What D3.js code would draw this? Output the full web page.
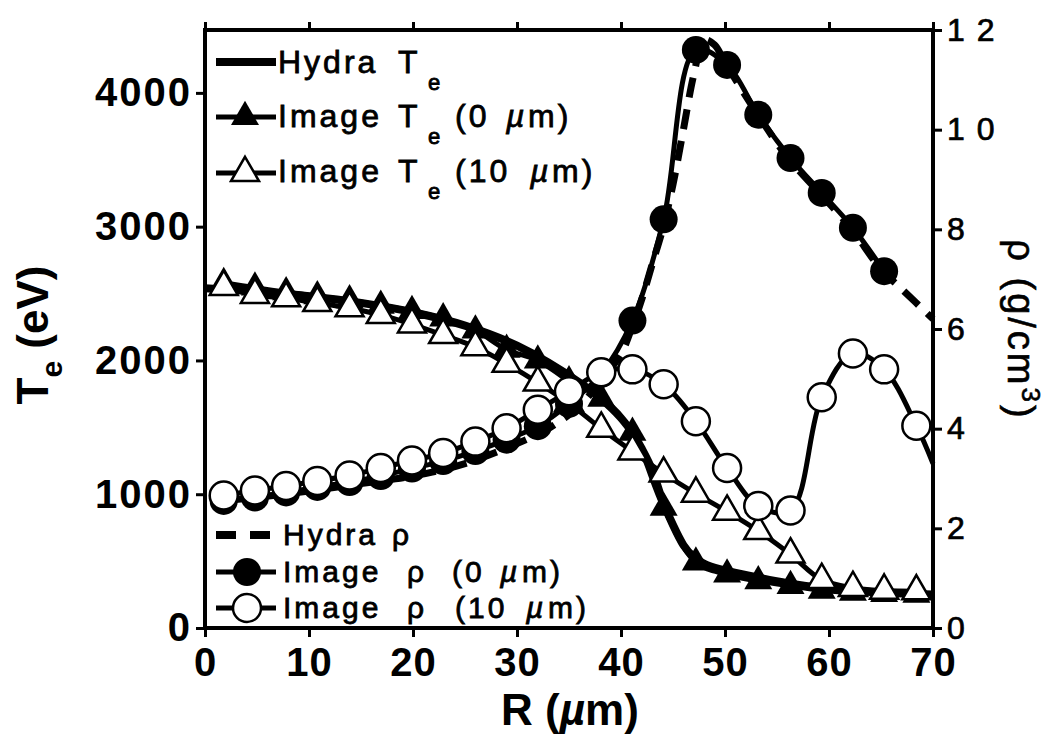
<!DOCTYPE html>
<html>
<head>
<meta charset="utf-8">
<script src="https://cdn.jsdelivr.net/npm/d3@7"></script>
<style>
body { margin: 0; background: #fff; }
svg text { font-family: "Liberation Sans", Arial, sans-serif; fill: #000; }
</style>
</head>
<body>
<script>
// marker radii (um), shared by the four image series
var rMarks = [1.8, 4.8, 7.8, 10.8, 13.9, 16.9, 19.9, 22.9, 26.0, 29.0, 32.0, 35.0, 38.1, 41.1, 44.1, 47.2, 50.2, 53.2, 56.3, 59.3, 62.3, 65.3, 68.4];
var teImg0 = [2580, 2545, 2510, 2480, 2450, 2410, 2370, 2315, 2225, 2080, 2000, 1845, 1715, 1460, 900, 490, 400, 350, 315, 280, 265, 255, 250];
var teImg10 = [2550, 2490, 2465, 2430, 2390, 2340, 2270, 2190, 2100, 1975, 1835, 1680, 1490, 1320, 1155, 1005, 870, 725, 550, 360, 300, 280, 275];
var rhoImg0 = [2.55, 2.62, 2.72, 2.83, 2.93, 3.05, 3.2, 3.35, 3.55, 3.78, 4.05, 4.5, 5.1, 6.17, 8.2, 11.6, 11.3, 10.3, 9.43, 8.73, 8.03, 7.16];
var rhoImg10 = [2.66, 2.76, 2.85, 2.95, 3.06, 3.21, 3.36, 3.51, 3.74, 4.01, 4.38, 4.75, 5.13, 5.19, 4.89, 4.15, 3.21, 2.45, 2.36, 4.63, 5.51, 5.19, 4.06];
// the open-circle curve runs on to the right axis
var rhoImg10TailR = [70];
var rhoImg10Tail = [3.3];

var hydraTeR = [0, 5, 10, 15, 20, 25, 30, 33, 36, 38, 40, 41, 42, 43, 44, 45, 46, 47, 48, 50, 53, 56, 60, 65, 70];
var hydraTe = [2540, 2515, 2480, 2430, 2360, 2260, 2110, 1985, 1835, 1720, 1570, 1470, 1340, 1180, 950, 770, 620, 530, 480, 430, 380, 335, 295, 265, 250];
var hydraRhoR = [2, 5, 10, 15, 20, 25, 30, 33, 36, 38, 40, 41, 42, 43, 44, 45, 46, 47, 48, 49, 50, 53, 56, 59, 62, 65, 67, 70];
var hydraRho = [2.56, 2.62, 2.75, 2.9, 3.05, 3.3, 3.7, 4.0, 4.45, 4.95, 5.5, 6.0, 6.6, 7.3, 8.0, 8.9, 10.0, 11.1, 11.8, 11.7, 11.35, 10.35, 9.45, 8.75, 8.05, 7.2, 6.8, 6.2];

var rTicks = [0, 10, 20, 30, 40, 50, 60, 70];
var teTicks = [0, 1000, 2000, 3000, 4000];
var rhoTicks = [0, 2, 4, 6, 8, 10, 12];

var width = 1062, height = 740;
var plotL = 205, plotR = 933, plotT = 30, plotB = 628;

var x = d3.scaleLinear().domain([0, 70]).range([plotL, plotR]);
var yT = d3.scaleLinear().domain([0, 4470]).range([plotB, plotT]);
var yR = d3.scaleLinear().domain([0, 12]).range([plotB, plotT]);

var svg = d3.select("body").append("svg")
    .attr("width", width)
    .attr("height", height);

function pairs(rs, vs) {
    return rs.slice(0, vs.length).map(function(r, i) { return [r, vs[i]]; });
}

var lineT = d3.line().x(function(d) { return x(d[0]); }).y(function(d) { return yT(d[1]); });
var lineR = d3.line().x(function(d) { return x(d[0]); }).y(function(d) { return yR(d[1]); });

var triArea = 340, circR = 14;
var markLine = 5;
var tri = d3.symbol().type(d3.symbolTriangle).size(triArea);

// ---- Te series ----
svg.append("path")
    .attr("d", lineT.curve(d3.curveMonotoneX)(pairs(hydraTeR, hydraTe)))
    .attr("fill", "none").attr("stroke", "#000").attr("stroke-width", 8);

var te0 = pairs(rMarks, teImg0);
svg.append("path")
    .attr("d", lineT.curve(d3.curveCatmullRom)(te0))
    .attr("fill", "none").attr("stroke", "#000").attr("stroke-width", markLine);
svg.selectAll(".tri0").data(te0).enter().append("path")
    .attr("class", "tri0")
    .attr("d", tri)
    .attr("transform", function(d) { return "translate(" + x(d[0]) + "," + yT(d[1]) + ")"; })
    .attr("fill", "#000");

var te10 = pairs(rMarks, teImg10);
svg.append("path")
    .attr("d", lineT.curve(d3.curveCatmullRom)(te10))
    .attr("fill", "none").attr("stroke", "#000").attr("stroke-width", markLine);
svg.selectAll(".tri10").data(te10).enter().append("path")
    .attr("class", "tri10")
    .attr("d", tri)
    .attr("transform", function(d) { return "translate(" + x(d[0]) + "," + yT(d[1]) + ")"; })
    .attr("fill", "#fff").attr("stroke", "#000").attr("stroke-width", 2.5);

// ---- density series ----
svg.append("path")
    .attr("d", lineR.curve(d3.curveCatmullRom)(pairs(hydraRhoR, hydraRho)))
    .attr("fill", "none").attr("stroke", "#000").attr("stroke-width", 7)
    .attr("stroke-dasharray", "20,12");

var rho0 = pairs(rMarks, rhoImg0);
svg.append("path")
    .attr("d", lineR.curve(d3.curveCatmullRom)(rho0))
    .attr("fill", "none").attr("stroke", "#000").attr("stroke-width", markLine);
svg.selectAll(".c0").data(rho0).enter().append("circle")
    .attr("class", "c0")
    .attr("cx", function(d) { return x(d[0]); })
    .attr("cy", function(d) { return yR(d[1]); })
    .attr("r", circR)
    .attr("fill", "#000");

var rho10 = pairs(rMarks, rhoImg10);
svg.append("path")
    .attr("d", lineR.curve(d3.curveCatmullRom)(rho10.concat(pairs(rhoImg10TailR, rhoImg10Tail))))
    .attr("fill", "none").attr("stroke", "#000").attr("stroke-width", markLine);
svg.selectAll(".c10").data(rho10).enter().append("circle")
    .attr("class", "c10")
    .attr("cx", function(d) { return x(d[0]); })
    .attr("cy", function(d) { return yR(d[1]); })
    .attr("r", circR)
    .attr("fill", "#fff").attr("stroke", "#000").attr("stroke-width", 2.5);

// ---- frame and axes ----
svg.append("rect")
    .attr("x", plotL).attr("y", plotT)
    .attr("width", plotR - plotL).attr("height", plotB - plotT)
    .attr("fill", "none").attr("stroke", "#000").attr("stroke-width", 4);

function styleAxis(g) {
    g.select(".domain").remove();
    g.selectAll(".tick line").attr("stroke", "#000").attr("stroke-width", 3);
}

svg.append("g")
    .attr("transform", "translate(0," + plotB + ")")
    .call(d3.axisBottom(x).tickValues(rTicks).tickSize(9).tickPadding(11).tickFormat(d3.format("d")))
    .call(styleAxis)
    .selectAll("text")
    .style("font-size", "40px").style("font-weight", "bold").style("letter-spacing", "1px");

svg.append("g")
    .attr("transform", "translate(0," + plotT + ")")
    .call(d3.axisTop(x).tickValues(rTicks).tickSize(8).tickFormat(""))
    .call(styleAxis);

svg.append("g")
    .attr("transform", "translate(" + plotL + ",0)")
    .call(d3.axisLeft(yT).tickValues(teTicks).tickSize(9).tickPadding(4).tickFormat(d3.format("d")))
    .call(styleAxis)
    .selectAll("text")
    .style("font-size", "40px").style("font-weight", "bold").style("letter-spacing", "2px");

svg.append("g")
    .attr("transform", "translate(" + plotR + ",0)")
    .call(d3.axisRight(yR).tickValues(rhoTicks).tickSize(9).tickPadding(5).tickFormat(d3.format("d")))
    .call(styleAxis)
    .selectAll("text")
    .style("font-size", "32px").style("letter-spacing", "12px")
    .style("stroke", "#000").style("stroke-width", "0.7px");

// ---- axis titles ----
var xt = svg.append("text")
    .attr("x", 570).attr("y", 725)
    .attr("text-anchor", "middle")
    .style("font-size", "44px").style("font-weight", "bold");
xt.append("tspan").text("R (");
xt.append("tspan").style("font-style", "italic").text("\u00b5");
xt.append("tspan").text("m)");

var yt = svg.append("text")
    .attr("transform", "translate(48,335) rotate(-90)")
    .attr("text-anchor", "middle")
    .style("font-size", "44px").style("font-weight", "bold");
yt.append("tspan").text("T");
yt.append("tspan").attr("dy", 14).style("font-size", "30px").text("e");
yt.append("tspan").attr("dy", -14).text(" (eV)");

var yr = svg.append("text")
    .attr("transform", "translate(1008,330) rotate(90)")
    .attr("text-anchor", "middle")
    .style("font-size", "38px").style("letter-spacing", "3px")
    .style("stroke", "#000").style("stroke-width", "0.6px");
yr.append("tspan").text("\u03c1 (g/cm");
yr.append("tspan").attr("dy", -14).style("font-size", "26px").text("3");
yr.append("tspan").attr("dy", 14).text(")");

// ---- legends ----
function legendLine(y, dashed, w) {
    svg.append("line")
        .attr("x1", 216).attr("x2", 276).attr("y1", y).attr("y2", y)
        .attr("stroke", "#000").attr("stroke-width", w)
        .attr("stroke-dasharray", dashed ? "20,14" : null);
}

function legendTri(y, filled) {
    legendLine(y, false, markLine);
    svg.append("path").attr("d", tri)
        .attr("transform", "translate(245," + y + ")")
        .attr("fill", filled ? "#000" : "#fff")
        .attr("stroke", "#000").attr("stroke-width", filled ? 0 : 2.5);
}

function legendCirc(y, filled) {
    legendLine(y, false, markLine);
    svg.append("circle").attr("cx", 247).attr("cy", y).attr("r", circR)
        .attr("fill", filled ? "#000" : "#fff")
        .attr("stroke", "#000").attr("stroke-width", filled ? 0 : 2.5);
}

function legendText(y, parts, size) {
    var t = svg.append("text").attr("y", y)
        .style("font-size", size + "px").style("letter-spacing", "3px")
        .style("stroke", "#000").style("stroke-width", "0.8px");
    parts.forEach(function(p) {
        var s = t.append("tspan").attr("x", p.x).attr("y", y + (p.dy || 0)).text(p.t);
        if (p.size) s.style("font-size", p.size + "px");
        if (p.it) s.style("font-style", "italic").style("letter-spacing", "0px");
    });
}

legendLine(62, false, 8);
legendText(73, [{x: 278, t: "Hydra"}, {x: 398, t: "T"}, {x: 428, t: "e", dy: 17, size: 22}], 32);

legendTri(117, true);
legendText(127, [{x: 278, t: "Image"}, {x: 398, t: "T"}, {x: 428, t: "e", dy: 17, size: 22},
    {x: 455, t: "(0"}, {x: 506, t: "\u00b5", it: true}, {x: 528, t: "m)"}], 32);

legendTri(173, false);
legendText(182, [{x: 278, t: "Image"}, {x: 398, t: "T"}, {x: 428, t: "e", dy: 17, size: 22},
    {x: 455, t: "(10"}, {x: 530, t: "\u00b5", it: true}, {x: 552, t: "m)"}], 32);

legendLine(535, true, 8);
legendText(545, [{x: 283, t: "Hydra"}, {x: 392, t: "\u03c1"}], 30);

legendCirc(572, true);
legendText(582, [{x: 283, t: "Image"}, {x: 407, t: "\u03c1"},
    {x: 452, t: "(0"}, {x: 500, t: "\u00b5", it: true}, {x: 522, t: "m)"}], 30);

legendCirc(608, false);
legendText(618, [{x: 283, t: "Image"}, {x: 407, t: "\u03c1"},
    {x: 455, t: "(10"}, {x: 526, t: "\u00b5", it: true}, {x: 548, t: "m)"}], 30);
</script>
</body>
</html>
